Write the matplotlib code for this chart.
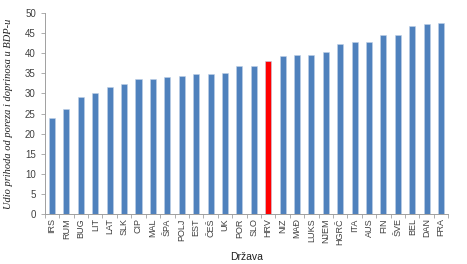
import numpy as np
import matplotlib
matplotlib.use("Agg")
import matplotlib.pyplot as plt

countries = ["IRS", "RUM", "BUG", "LIT", "LAT", "SLK", "CIP", "MAL", "ŠPA", "POLJ",
             "EST", "ČEŠ", "UK", "POR", "SLO", "HRV", "NIZ", "MAĐ", "LUKS", "NJEM",
             "HGRČ", "ITA", "AUS", "FIN", "ŠVE", "BEL", "DAN", "FRA"]
share = [23.8, 26.0, 29.0, 30.2, 31.6, 32.3, 33.7, 33.7, 34.2, 34.4,
         34.7, 34.8, 35.1, 36.9, 36.9, 38.0, 39.3, 39.5, 39.6, 40.4,
         42.2, 42.9, 42.9, 44.4, 44.6, 46.8, 47.3, 47.6]
highlight = "HRV"

plt.rcParams['font.family'] = ['Liberation Sans', 'DejaVu Sans']

fig = plt.figure(figsize=(4.67, 2.64), dpi=100)
ax = fig.add_axes([0.096, 0.189, 0.864, 0.762])

x = np.arange(len(countries))
colors = ['#FF0000' if c == highlight else '#4F81BD' for c in countries]
ax.bar(x, share, width=0.42, color=colors, edgecolor='#BFD0E6', linewidth=0.4)

ax.set_xlim(-0.5, len(countries) - 0.5)
ax.set_ylim(0, 50)
ax.set_yticks(np.arange(0, 51, 5))
ax.set_xticks(x)
ax.set_xticklabels(countries, rotation=90, fontsize=6.5, color='#404040')
ax.set_xticks(np.arange(-0.5, len(countries), 1), minor=True)
ax.tick_params(axis='x', which='major', length=0, pad=3)
ax.tick_params(axis='x', which='minor', length=3, color='#A0A0A0', width=0.6)
ax.tick_params(axis='y', labelsize=7, colors='#404040', length=3, width=0.6)
ax.tick_params(axis='y', color='#A0A0A0')

for s in ['top', 'right']:
    ax.spines[s].set_visible(False)
for s in ['left', 'bottom']:
    ax.spines[s].set_color('#A0A0A0')
    ax.spines[s].set_linewidth(0.7)

ax.set_xlabel("Država", fontsize=7.5, color='#202020', labelpad=5)
ax.set_ylabel("Udio prihoda od poreza i doprinosa u BDP-u", fontsize=7.5,
              family='Liberation Serif', style='italic', color='#202020', labelpad=9)

fig.savefig("out.png", dpi=100)
